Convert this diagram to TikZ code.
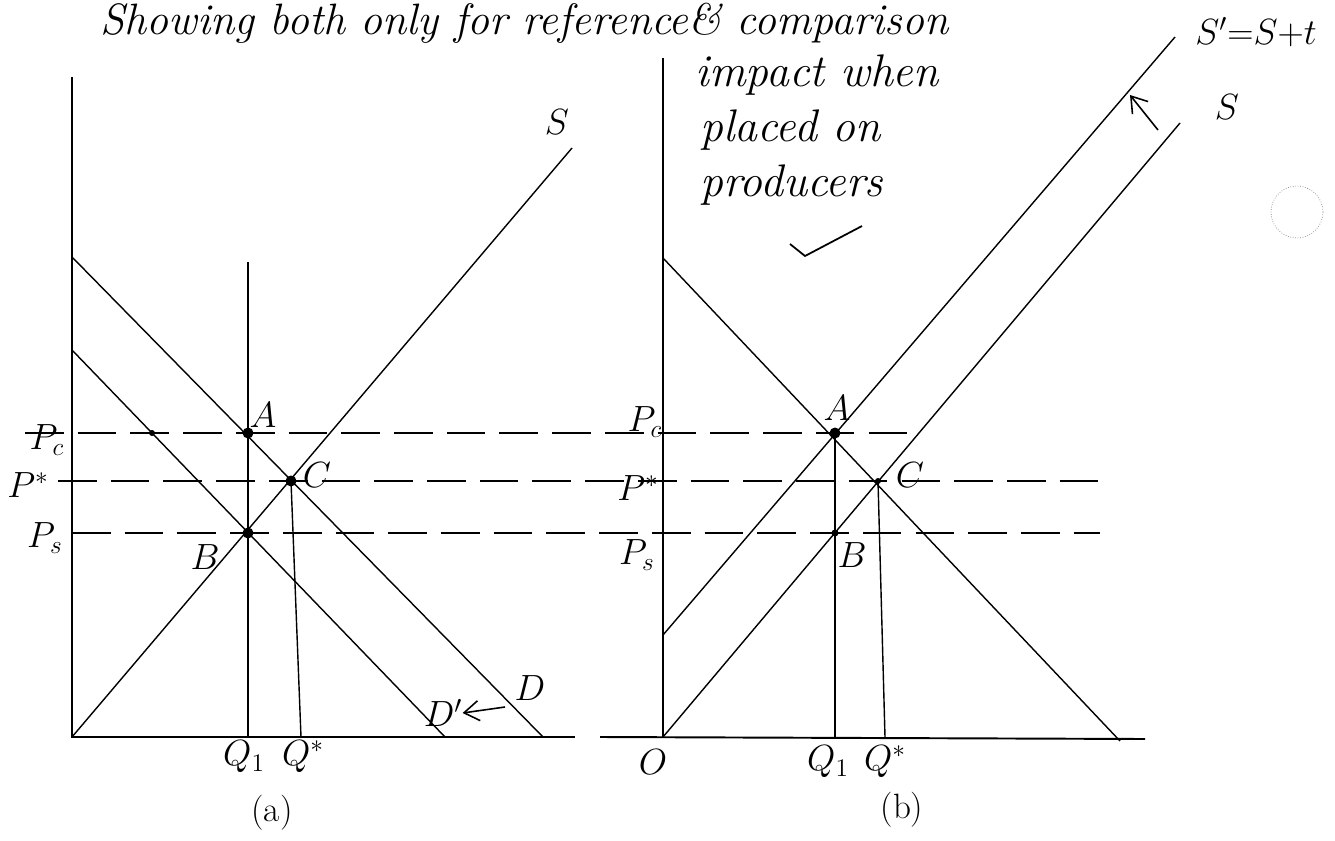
\documentclass[tikz,border=0pt]{standalone}
\usepackage{amsmath}
\usepackage{tikz}
\usetikzlibrary{positioning, arrows.meta, calc}

\begin{document}
\begin{tikzpicture}[
  x=0.2mm, y=-0.2mm,
  axis/.style={line width=1.1pt},
  curve/.style={line width=0.8pt},
  guide/.style={line width=0.8pt, dash pattern=on 22pt off 8pt},
  dot/.style={circle, fill, inner sep=0pt, minimum size=2.2mm},
  lbl/.style={font=\fontsize{20}{24}\selectfont, inner sep=0pt},
  note/.style={font=\fontsize{26}{30}\selectfont\itshape, inner sep=0pt, anchor=base west},
  arr/.style={-{Straight Barb[length=3mm,width=4mm]}, line width=0.9pt}
]
\useasboundingbox (0,0) rectangle (1335,841);

% Notes
\node[note, font=\fontsize{25}{30}\selectfont\itshape] (title) at (100,34)
  {Showing both only for reference\& comparison};
\node[note] (imp1) at (695,86) {impact when};
\node[note] (imp2) at (700,141) {placed on};
\node[note] (imp3) at (700,196) {producers};
\draw[line width=1pt] (790,244) -- (805,256) -- (862,226);

% Panel (a)
\coordinate (oa) at (72,737);
\coordinate (ya) at (72,77);
\coordinate (xa) at (575,737);
\coordinate (sa) at (572,148);
\coordinate (da0) at (72,257);
\coordinate (da1) at (543,737);
\coordinate (dpa0) at (72,350);
\coordinate (dpa1) at (445,737);
\coordinate (qa1) at (248,262);
\coordinate (qa0) at (248,737);
\coordinate (qsa) at (301,737);
\node[dot] (Aa) at (248,433) {};
\node[dot] (Ca) at (291,481) {};
\node[dot] (Ba) at (248,533) {};
\node[dot, minimum size=1.2mm] (ka) at (152,433) {};

\draw[axis] (ya) -- (oa) -- (xa);
\draw[curve] (oa) -- (sa);
\draw[curve] (da0) -- (da1);
\draw[curve] (dpa0) -- (dpa1);
\draw[curve] (qa1) -- (qa0);
\draw[curve] (Ca.center) -- (qsa);

% Panel (b)
\coordinate (ob) at (663,737);
\coordinate (yb) at (663,58);
\coordinate (xb0) at (600,737);
\coordinate (xb1) at (1145,739);
\coordinate (db0) at (663,258);
\coordinate (db1) at (1120,741);
\coordinate (spb0) at (663,635);
\coordinate (spb1) at (1175,37);
\coordinate (sb1) at (1180,123);
\coordinate (qb0) at (835,737);
\coordinate (qsb) at (885,737);
\node[dot] (Ab) at (835,433) {};
\node[dot, minimum size=1.2mm] (Cb) at (878,481) {};
\node[dot, minimum size=1.4mm] (Bb) at (835,533) {};

\draw[axis] (yb) -- (ob);
\draw[axis] (xb0) -- (xb1);
\draw[curve] (db0) -- (db1);
\draw[curve] (spb0) -- (spb1);
\draw[curve] (ob) -- (sb1);
\draw[curve] (Ab.center) -- (qb0);
\draw[curve] (Cb.center) -- (qsb);

% Price guides
\coordinate (pc0) at (25,433);
\coordinate (pc1) at (907,433);
\coordinate (ps0) at (58,481);
\coordinate (ps1) at (1105,481);
\coordinate (pl0) at (72,533);
\coordinate (pl1) at (1100,533);
\draw[guide] (pc0) -- (pc1);
\draw[guide] (ps0) -- (ps1);
\draw[guide] (pl0) -- (pl1);

% Labels (a)
\node[lbl] (lpca) at (47,440) {$P_c$};
\node[lbl] (lpsa) at (28,485) {$P^*$};
\node[lbl] (lpla) at (45,538) {$P_s$};
\node[lbl] (lAa) at (263,415) {$A$};
\node[lbl] (lCa) at (317,475) {$C$};
\node[lbl] (lBa) at (205,557) {$B$};
\node[lbl] (lSa) at (557,122) {$S$};
\node[lbl] (lDa) at (530,688) {$D$};
\node[lbl] (lDpa) at (443,713) {$D'$};
\coordinate (dptail) at (505,707);
\draw[arr] (dptail) -- (lDpa.east);
\node[lbl] (lQ1a) at (244,757) {$Q_1$};
\node[lbl] (lQsa) at (303,757) {$Q^*$};
\node[lbl] (capa) at (272,813) {(a)};

% Labels (b)
\node[lbl] (lpcb) at (645,422) {$P_c$};
\node[lbl] (lpsb) at (638,488) {$P^*$};
\node[lbl] (lplb) at (637,555) {$P_s$};
\node[lbl] (lAb) at (837,408) {$A$};
\node[lbl] (lCb) at (910,475) {$C$};
\node[lbl] (lBb) at (852,555) {$B$};
\node[lbl] (lO) at (653,762) {$O$};
\node[lbl] (lQ1b) at (828,762) {$Q_1$};
\node[lbl] (lQsb) at (885,762) {$Q^*$};
\node[lbl] (capb) at (902,810) {(b)};
\node[lbl, anchor=west] (lSpb) at (1195,32) {$S'{=}S{+}t$};
\node[lbl] (lSb) at (1227,107) {$S$};
\coordinate (shtail) at (1158,130);
\coordinate (shtip) at (1130,95);
\draw[arr] (shtail) -- (shtip);

% Stray circle
\node[circle, draw=gray, densely dotted, minimum size=10.4mm] (ring) at (1297,212) {};

\end{tikzpicture}
\end{document}
